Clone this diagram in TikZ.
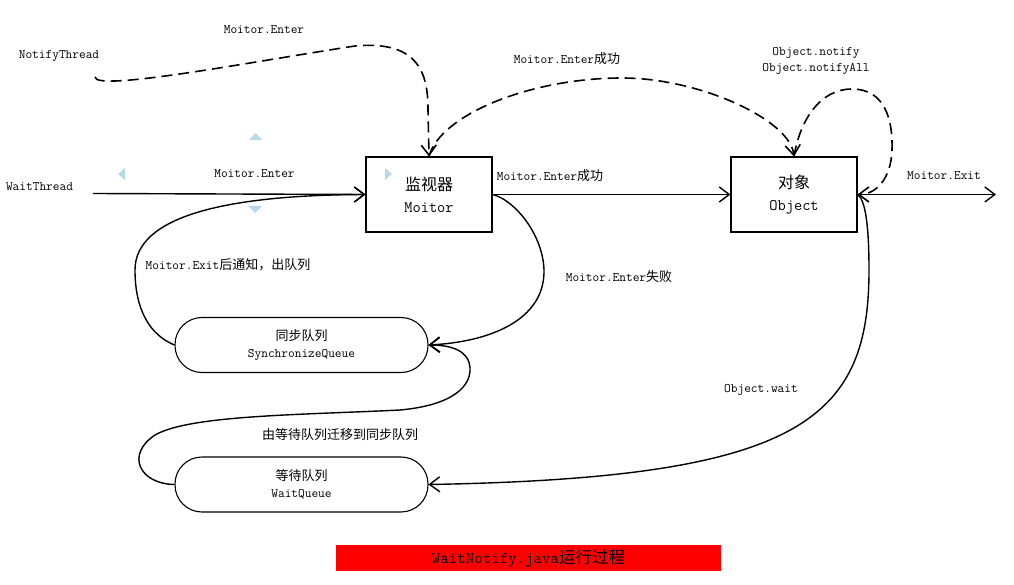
\documentclass[tikz,border=0pt]{standalone}
\usepackage{fontspec}
\newfontfamily\cjkfont{Noto Sans CJK SC}
\newcommand{\zh}[1]{{\cjkfont #1}}
\usetikzlibrary{arrows.meta,positioning}
\definecolor{handleblue}{RGB}{182,216,236}
\definecolor{barred}{RGB}{255,0,0}

\begin{document}
\begin{tikzpicture}[x=1pt,y=-1pt,
    line width=1.4pt,
    >={Straight Barb[length=10pt,width=15pt]},
    monbox/.style={draw,line width=1.1pt,minimum width=126pt,minimum height=75pt,
      align=center,inner sep=0pt,font=\fontsize{16}{22}\selectfont},
    queue/.style={draw,line width=1.1pt,rounded corners=27pt,minimum width=253pt,
      minimum height=55pt,align=center,inner sep=0pt,font=\fontsize{13}{16.5}\selectfont},
    lbl/.style={inner sep=0pt,font=\ttfamily\fontsize{13}{16}\selectfont},
    flow/.style={->},
    notice/.style={->,line width=1.6pt,dash pattern=on 11pt off 6pt},
  ]
  \useasboundingbox (0,0) rectangle (1014,585);

  % boxes
  \node[monbox] (monitor) at (429,194.5) {\zh{监视器}\\{\ttfamily Moitor}};
  \node[monbox] (object) at (794,194.5) {\zh{对象}\\{\ttfamily Object}};
  \node[queue] (syncq) at (301.5,345) {\zh{同步队列}\\{\ttfamily SynchronizeQueue}};
  \node[queue] (waitq) at (301.5,484.5) {\zh{等待队列}\\{\ttfamily WaitQueue}};
  \node[fill=barred,minimum width=385pt,minimum height=26pt,inner sep=0pt,
    font=\fontsize{16.5}{18}\selectfont] (title) at (528.5,558)
    {{\ttfamily WaitNotify.java}\zh{运行过程}};

  % labels
  \node[lbl] (notifythread) at (59,56) {NotifyThread};
  \node[lbl] (enternotify) at (264,30) {Moitor.Enter};
  \node[lbl] (waitthread) at (39.5,187) {WaitThread};
  \node[lbl] (enterwait) at (254.5,174) {Moitor.Enter};
  \node[lbl] (oktop) at (567,59) {Moitor.Enter\zh{成功}};
  \node[lbl] (okmid) at (550,176) {Moitor.Enter\zh{成功}};
  \node[lbl,align=center] (notifylbl) at (816,61) {Object.notify\\Object.notifyAll};
  \node[lbl] (exitlbl) at (944,176) {Moitor.Exit};
  \node[lbl] (exitnotify) at (228,265) {Moitor.Exit\zh{后通知，出队列}};
  \node[lbl] (faillbl) at (619,277) {Moitor.Enter\zh{失败}};
  \node[lbl] (waitlbl) at (761,390) {Object.wait};
  \node[lbl] (movelbl) at (340,435) {\zh{由等待队列迁移到同步队列}};

  % free ends
  \coordinate (ntstart) at (95,77);
  \coordinate (wtstart) at (93,193.5);
  \coordinate (exitend) at (996,194.5);

  % connectors
  \draw[flow] (wtstart) -- (monitor.west);
  \draw[notice] (ntstart) .. controls (95,92) and (250,62) .. (355,46)
    .. controls (420,40) and (428,75) .. (428,110) -- (monitor.north);
  \draw[notice] (monitor.north) .. controls (440,115) and (530,78) .. (622,78)
    .. controls (700,78) and (790,120) .. (object.north);
  \draw[notice] (object.north) .. controls (800,120) and (820,89) .. (852,89)
    .. controls (885,89) and (893,120) .. (892,150)
    .. controls (891,180) and (875,194.5) .. (object.east);
  \draw[flow] (monitor.east) -- (object.west);
  \draw[flow] (object.east) -- (exitend);
  \draw[flow] (monitor.east) .. controls (515,200) and (543,235) .. (544,270)
    .. controls (545,320) and (490,342) .. (syncq.east);
  \draw[flow] (syncq.west) .. controls (150,335) and (135,310) .. (135,270)
    .. controls (135,215) and (230,195) .. (monitor.west);
  \draw[flow] (object.east) .. controls (866,200) and (869,230) .. (869,270)
    .. controls (869,420) and (800,478) .. (waitq.east);
  \draw[flow] (waitq.west) .. controls (140,484) and (125,455) .. (155,435)
    .. controls (190,415) and (300,415) .. (400,410)
    .. controls (455,405) and (471,385) .. (470,368)
    .. controls (469,350) and (450,345) .. (syncq.east);

  % selection handles
  \fill[handleblue] (249,140) -- (262,140) -- (255.5,133) -- cycle;
  \fill[handleblue] (125,168) -- (125,180) -- (118,174) -- cycle;
  \fill[handleblue] (248,206) -- (262,206) -- (255,213) -- cycle;
  \fill[handleblue] (385,168) -- (385,180) -- (392,174) -- cycle;
\end{tikzpicture}
\end{document}
